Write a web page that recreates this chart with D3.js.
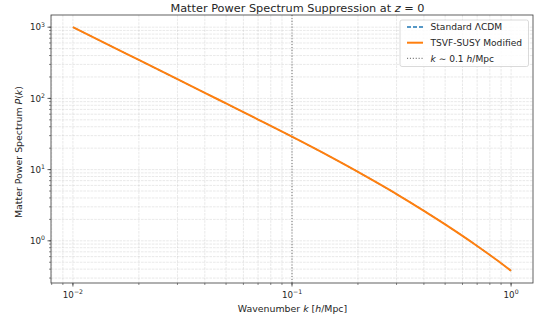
<!DOCTYPE html>
<html><head><meta charset="utf-8">
<script src="https://cdn.jsdelivr.net/npm/d3@7"></script>
<style>body{margin:0;background:#fff;} svg{display:block;font-family:"DejaVu Sans",sans-serif;}</style>
</head><body>
<svg id="c" width="543" height="324"></svg>
<script>
const kValues = [0.01, 0.015, 0.02, 0.03, 0.04, 0.05, 0.07, 0.1, 0.15, 0.2, 0.25, 0.3, 0.4, 0.5, 0.6, 0.7, 0.8, 0.9, 1.0];
const pStandard = [1000, 538, 346.3, 186.2, 119.8, 84.9, 50.5, 28.96, 15.07, 9.29, 6.29, 4.535, 2.639, 1.702, 1.174, 0.847, 0.632, 0.485, 0.379];
const pModified = [1000, 538, 346.3, 186.2, 119.8, 84.9, 50.5, 28.96, 15.07, 9.29, 6.29, 4.535, 2.639, 1.702, 1.174, 0.847, 0.632, 0.485, 0.379];
const xTicks = [0.01, 0.1, 1];
const xTickExp = ["\u22122", "\u22121", "0"];
const yTicks = [1, 10, 100, 1000];
const yTickExp = ["0", "1", "2", "3"];
const kMarker = 0.1;
const seriesNames = ["Standard \u039BCDM", "TSVF-SUSY Modified"];

const svg = d3.select("#c");
const L = 51, R = 533, T = 15, B = 283;
const xs = d3.scaleLog().domain([Math.pow(10, -2.1), Math.pow(10, 0.1)]).range([L, R]);
const lpMin = Math.log10(d3.min(pModified)), lpMax = Math.log10(d3.max(pModified));
const span = lpMax - lpMin;
const ys = d3.scaleLog().domain([Math.pow(10, lpMin - 0.05 * span), Math.pow(10, lpMax + 0.05 * span)]).range([B, T]);

function minorTicks(lo, hi) {
  const out = [];
  for (let e = Math.floor(Math.log10(lo)); e <= Math.ceil(Math.log10(hi)); e++) {
    for (let m = 1; m <= 9; m++) {
      const v = m * Math.pow(10, e);
      if (v >= lo && v <= hi) out.push(v);
    }
  }
  return out;
}
const xAll = minorTicks(xs.domain()[0], xs.domain()[1]);
const yAll = minorTicks(ys.domain()[0], ys.domain()[1]);

const grid = svg.append("g").attr("stroke", "#b0b0b0").attr("stroke-opacity", 0.4).attr("stroke-width", 0.7).attr("stroke-dasharray", "2.6,1");
grid.selectAll("line.gx").data(xAll).enter().append("line")
  .attr("x1", d => xs(d)).attr("x2", d => xs(d)).attr("y1", T).attr("y2", B);
grid.selectAll("line.gy").data(yAll).enter().append("line")
  .attr("y1", d => ys(d)).attr("y2", d => ys(d)).attr("x1", L).attr("x2", R);

svg.append("line").attr("x1", xs(kMarker)).attr("x2", xs(kMarker)).attr("y1", T).attr("y2", B)
  .attr("stroke", "#7f7f7f").attr("stroke-width", 1.1).attr("stroke-dasharray", "1.1,1.8");

const line = d3.line().x((d, i) => xs(kValues[i])).y(d => ys(d)).curve(d3.curveMonotoneX);
svg.append("path").datum(pStandard).attr("d", line).attr("fill", "none")
  .attr("stroke", "#1f77b4").attr("stroke-width", 1.2).attr("stroke-dasharray", "5.5,2.4");
svg.append("path").datum(pModified).attr("d", line).attr("fill", "none")
  .attr("stroke", "#ff7f0e").attr("stroke-width", 2);

const axCol = "#3a3a3a";
const xAxis = svg.append("g").attr("transform", `translate(0,${B})`);
xAxis.selectAll("line.minor").data(xAll).enter().append("line")
  .attr("x1", d => xs(d)).attr("x2", d => xs(d)).attr("y1", 0).attr("y2", 2).attr("stroke", axCol).attr("stroke-width", 0.6);
xAxis.selectAll("line.major").data(xTicks).enter().append("line")
  .attr("x1", d => xs(d)).attr("x2", d => xs(d)).attr("y1", 0).attr("y2", 3.5).attr("stroke", axCol).attr("stroke-width", 0.8);
const xt = xAxis.selectAll("text").data(xTicks).enter().append("text")
  .attr("x", d => xs(d)).attr("y", 14.5).attr("text-anchor", "middle").attr("font-size", 8.7).attr("fill", "#262626");
xt.append("tspan").text("10");
xt.append("tspan").attr("dy", -3.8).attr("font-size", 6.2).text((d, i) => xTickExp[i]);

const yAxis = svg.append("g").attr("transform", `translate(${L},0)`);
yAxis.selectAll("line.minor").data(yAll).enter().append("line")
  .attr("y1", d => ys(d)).attr("y2", d => ys(d)).attr("x1", 0).attr("x2", -2).attr("stroke", axCol).attr("stroke-width", 0.6);
yAxis.selectAll("line.major").data(yTicks).enter().append("line")
  .attr("y1", d => ys(d)).attr("y2", d => ys(d)).attr("x1", 0).attr("x2", -3.5).attr("stroke", axCol).attr("stroke-width", 0.8);
const yt = yAxis.selectAll("text").data(yTicks).enter().append("text")
  .attr("x", -6).attr("y", d => ys(d) + 3.2).attr("text-anchor", "end").attr("font-size", 8.7).attr("fill", "#262626");
yt.append("tspan").text("10");
yt.append("tspan").attr("dy", -3.8).attr("font-size", 6.2).text((d, i) => yTickExp[i]);

svg.append("rect").attr("x", L).attr("y", T).attr("width", R - L).attr("height", B - T)
  .attr("fill", "none").attr("stroke", axCol).attr("stroke-width", 0.8);

const title = svg.append("text").attr("x", 297.5).attr("y", 11.5).attr("text-anchor", "middle")
  .attr("font-size", 11.3).attr("fill", "#262626");
title.append("tspan").text("Matter Power Spectrum Suppression at ");
title.append("tspan").attr("font-style", "italic").text("z");
title.append("tspan").text(" = 0");

const xl = svg.append("text").attr("x", 292.5).attr("y", 311.5).attr("text-anchor", "middle")
  .attr("font-size", 9.4).attr("fill", "#262626");
xl.append("tspan").text("Wavenumber ");
xl.append("tspan").attr("font-style", "italic").text("k");
xl.append("tspan").text(" [");
xl.append("tspan").attr("font-style", "italic").text("h");
xl.append("tspan").text("/Mpc]");

const yl = svg.append("text").attr("transform", `translate(22,${(T + B) / 2 + 3}) rotate(-90)`).attr("text-anchor", "middle")
  .attr("font-size", 9.4).attr("fill", "#262626");
yl.append("tspan").text("Matter Power Spectrum ");
yl.append("tspan").attr("font-style", "italic").text("P");
yl.append("tspan").text("(");
yl.append("tspan").attr("font-style", "italic").text("k");
yl.append("tspan").text(")");

const lg = svg.append("g");
lg.append("rect").attr("x", 400).attr("y", 20).attr("width", 128.5).attr("height", 46.5).attr("rx", 2)
  .attr("fill", "#fff").attr("fill-opacity", 0.85).attr("stroke", "#d0d0d0").attr("stroke-width", 0.8);
const legItems = [
  {name: seriesNames[0], color: "#1f77b4", dash: "4,2", w: 1.5},
  {name: seriesNames[1], color: "#ff7f0e", dash: null, w: 2},
  {name: null, color: "#7f7f7f", dash: "1.1,1.8", w: 1.1}
];
legItems.forEach((it, i) => {
  const y = 27 + i * 15.7;
  lg.append("line").attr("x1", 407).attr("x2", 423).attr("y1", y).attr("y2", y)
    .attr("stroke", it.color).attr("stroke-width", it.w).attr("stroke-dasharray", it.dash);
  const t = lg.append("text").attr("x", 430.5).attr("y", y + 3.2).attr("font-size", 9.1).attr("fill", "#262626");
  if (it.name) t.text(it.name);
  else {
    t.append("tspan").attr("font-style", "italic").text("k");
    t.append("tspan").text(" \u223C 0.1 ");
    t.append("tspan").attr("font-style", "italic").text("h");
    t.append("tspan").text("/Mpc");
  }
});
</script>
</body></html>
